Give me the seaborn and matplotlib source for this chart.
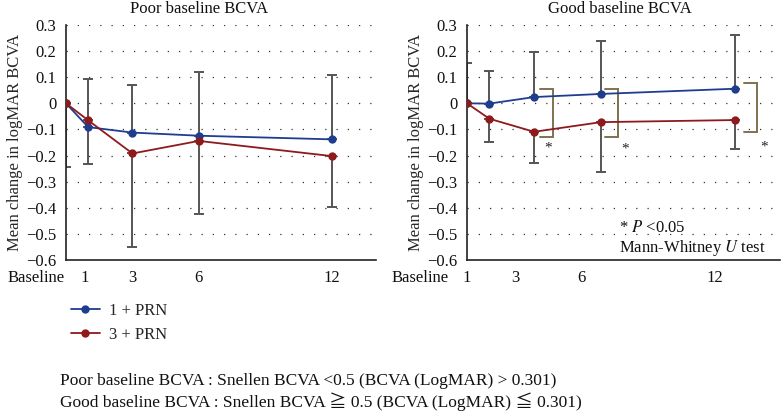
import matplotlib
matplotlib.use("Agg")
import matplotlib.pyplot as plt
import seaborn as sns
import pandas as pd
from matplotlib.lines import Line2D

# ---------------- data ----------------
months = [0, 1, 3, 6, 12]
series_names = ["1 + PRN", "3 + PRN"]

poor_1prn = [0.0, -0.091, -0.112, -0.124, -0.138]
poor_3prn = [0.0, -0.065, -0.192, -0.144, -0.202]
poor_1prn_sd_up = [0.0, 0.184, 0.183, 0.245, 0.245]
poor_3prn_sd_down = [0.245, 0.166, 0.360, 0.278, 0.194]

good_1prn = [0.0, -0.001, 0.024, 0.036, 0.056]
good_3prn = [0.0, -0.059, -0.109, -0.072, -0.064]
good_1prn_sd_up = [0.153, 0.125, 0.171, 0.203, 0.207]
good_3prn_sd_down = [0.0, 0.088, 0.118, 0.192, 0.109]

tick_labels = ["1", "3", "6", "12"]
yticks = [0.3, 0.2, 0.1, 0.0, -0.1, -0.2, -0.3, -0.4, -0.5, -0.6]

# ---------------- style ----------------
sns.set_theme(style="white")
plt.rcParams["font.family"] = ["Liberation Serif", "Noto Sans CJK JP", "DejaVu Serif"]
plt.rcParams["mathtext.fontset"] = "stix"
FS = 12
MS = 6.0

colors = {"1 + PRN": "#1f3d8f", "3 + PRN": "#8e1a1c"}
ERR_C = "#555555"
BR_C = "#7d7350"

fig = plt.figure(figsize=(7.81, 4.11), dpi=100)
ax1 = fig.add_axes([66 / 781, 1 - 260 / 411, 310 / 781, 235 / 411])
ax2 = fig.add_axes([467 / 781, 1 - 260 / 411, 313 / 781, 235 / 411])


def fmt(v):
    if abs(v) < 1e-9:
        return "0"
    s = f"{v:.1f}"
    return s.replace("-", "\u2212")


def draw_panel(ax, m1, m3, sd_up, sd_down, title, title_x, ticks):
    # gridlines
    for y in yticks[:-1]:
        ax.axhline(y, color="#333333", lw=0.9, ls=(0, (1, 8)), zorder=0.5)
    # error bars
    ax.errorbar(months, m1, yerr=[[0] * len(months), sd_up], fmt="none",
                ecolor=ERR_C, elinewidth=1.4, capsize=3.5, capthick=1.4, zorder=1)
    ax.errorbar(months, m3, yerr=[sd_down, [0] * len(months)], fmt="none",
                ecolor=ERR_C, elinewidth=1.4, capsize=3.5, capthick=1.4, zorder=1)
    df = pd.DataFrame({
        "month": months * 2,
        "value": list(m1) + list(m3),
        "group": [series_names[0]] * len(months) + [series_names[1]] * len(months),
    })
    sns.lineplot(data=df, x="month", y="value", hue="group", palette=colors,
                 marker="o", markersize=MS, markeredgewidth=0, lw=1.3,
                 ax=ax, legend=False, zorder=3)
    ax.set_xlim(0, 14)
    ax.set_ylim(-0.6, 0.3)
    ax.set_yticks(yticks)
    ax.set_yticklabels([fmt(v) for v in yticks], fontsize=FS)
    ax.set_xticks(ticks)
    ax.set_xticklabels(tick_labels, fontsize=FS)
    ax.set_xlabel("")
    ax.set_ylabel("Mean change in logMAR BCVA", fontsize=FS, labelpad=2)
    ax.tick_params(axis="both", direction="out", length=5, width=1.2,
                   color="#222222", pad=2, labelcolor="#111111")
    for s in ["top", "right"]:
        ax.spines[s].set_visible(False)
    for s in ["left", "bottom"]:
        ax.spines[s].set_color("#222222")
        ax.spines[s].set_linewidth(1.2)
    ax.text(title_x, 1.035, title, transform=ax.transAxes, ha="center",
            va="bottom", fontsize=FS, color="#111111")


draw_panel(ax1, poor_1prn, poor_3prn, poor_1prn_sd_up, poor_3prn_sd_down,
           "Poor baseline BCVA", 0.43, [0.83, 3, 6, 12])
draw_panel(ax2, good_1prn, good_3prn, good_1prn_sd_up, good_3prn_sd_down,
           "Good baseline BCVA", 0.49, [0, 2.16, 5.13, 11.1])

# "Baseline" labels
ax1.text(-0.005, -0.078, "Baseline", transform=ax1.transAxes, ha="right",
         va="center", fontsize=FS, color="#111111")
ax2.text(-0.06, -0.078, "Baseline", transform=ax2.transAxes, ha="right",
         va="center", fontsize=FS, color="#111111")

# significance brackets on the right panel
brackets = [(3.26, 3.84, 0.054, -0.129), (6.16, 6.75, 0.054, -0.129),
            (12.37, 12.95, 0.077, -0.109)]
stars = [(3.44, -0.172), (6.9, -0.175), (13.1, -0.166)]
for x0, x1, yt, yb in brackets:
    ax2.plot([x0, x1, x1, x0], [yt, yt, yb, yb], color=BR_C, lw=1.4,
             solid_joinstyle="miter", zorder=2)
for sx, sy in stars:
    ax2.text(sx, sy, "*", ha="left", va="center", fontsize=FS - 1, color="#222222")

ax2.text(6.8, -0.478, r"* $\it{P}$ <0.05", ha="left", va="center",
         fontsize=FS, color="#111111")
ax2.text(6.8, -0.554, r"Mann-Whitney $\it{U}$ test", ha="left", va="center",
         fontsize=FS, color="#111111")

# legend
handles = [Line2D([0], [0], color=colors[n], marker="o", markersize=MS,
                  markeredgewidth=0, lw=1.3) for n in series_names]
fig.legend(handles, series_names, loc="center left",
           bbox_to_anchor=(64 / 781, 1 - 323 / 411), frameon=False,
           fontsize=FS, handlelength=1.75, handletextpad=0.55,
           labelspacing=0.45, borderaxespad=0)

# footnotes
FN = 12.5
fig.text(60 / 781, 1 - 381 / 411,
         "Poor baseline BCVA : Snellen BCVA <0.5 (BCVA (LogMAR) > 0.301)",
         ha="left", va="center", fontsize=FN, color="#111111")
fig.text(60 / 781, 1 - 402 / 411,
         "Good baseline BCVA : Snellen BCVA \u2267 0.5 (BCVA (LogMAR) \u2266 0.301)",
         ha="left", va="center", fontsize=FN, color="#111111",
         family=["Liberation Serif", "Noto Sans CJK JP"])

fig.savefig("out.png", dpi=100)
